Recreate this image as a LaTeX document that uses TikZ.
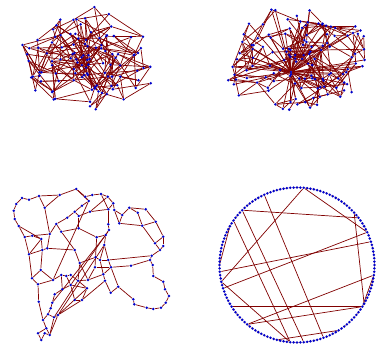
\documentclass[tikz,border=0pt]{standalone}
\definecolor{edgecol}{RGB}{128,0,0}
\definecolor{dotcol}{RGB}{0,0,200}
\pgfdeclarelayer{bg}
\pgfsetlayers{bg,main}
\newcount\ecnt
\tikzset{
 vdot/.style={circle,fill=dotcol,draw=none,inner sep=0pt,minimum size=2.8pt},
 lnk/.style={draw=edgecol,line width=0.7pt},
}
\begin{document}
\begin{tikzpicture}[x=1pt,y=-1pt]
\useasboundingbox (0,0) rectangle (376,349);
% ---------- panel 1: random graph ----------
\pgfmathsetseed{2024}
\foreach \i in {1,...,110}{%
 \pgfmathsetmacro\ang{rnd*360}%
 \pgfmathsetmacro\rad{rnd^0.7}%
 \pgfmathsetmacro\px{90+70*\rad*cos(\ang)}%
 \pgfmathsetmacro\py{58+52*\rad*sin(\ang)}%
 \node[vdot] (a\i) at (\px,\py) {};%
 \expandafter\xdef\csname ax\i\endcsname{\px}%
 \expandafter\xdef\csname ay\i\endcsname{\py}%
}
\begin{pgfonlayer}{bg}
\foreach \ii in {1,...,110}{%
 \global\ecnt=0
 \edef\xa{\csname ax\ii\endcsname}\edef\ya{\csname ay\ii\endcsname}%
 \foreach \t in {1,...,30}{%
  \ifnum\ecnt<2
   \pgfmathtruncatemacro\jj{random(1,110)}%
   \edef\xb{\csname ax\jj\endcsname}\edef\yb{\csname ay\jj\endcsname}%
   \pgfmathsetmacro\dx{abs(\xa-\xb)}%
   \pgfmathsetmacro\dy{abs(\ya-\yb)}%
   \ifdim\dx pt<42pt\ifdim\dy pt<42pt
     \pgfmathsetmacro\dd{\dx*\dx+\dy*\dy}%
     \ifdim\dd pt<1764pt\ifdim\dd pt>30pt
       \draw[lnk] (a\ii)--(a\jj);\global\advance\ecnt by 1
     \fi\fi
   \fi\fi
  \fi
 }%
}
\end{pgfonlayer}
% ---------- panel 2: random graph with hub ----------
\node[vdot] (b0) at (291,72) {};
\node[vdot] (b126) at (321,50) {};
\node[vdot] (b127) at (343,74) {};
\pgfmathsetseed{77}
\foreach \i in {1,...,125}{%
 \pgfmathsetmacro\ang{rnd*360}%
 \pgfmathsetmacro\rad{rnd^0.6}%
 \pgfmathsetmacro\px{298+76*\rad*cos(\ang)}%
 \pgfmathsetmacro\py{62+56*\rad*sin(\ang)}%
 \node[vdot] (b\i) at (\px,\py) {};%
 \expandafter\xdef\csname bx\i\endcsname{\px}%
 \expandafter\xdef\csname by\i\endcsname{\py}%
 \pgfmathsetmacro\hub{rnd}%
 \expandafter\xdef\csname bh\i\endcsname{\hub}%
}
\begin{pgfonlayer}{bg}
\foreach \i in {1,...,125}{%
 \edef\hub{\csname bh\i\endcsname}%
 \ifdim\hub pt<0.36pt
   \draw[lnk] (b0)--(b\i);%
 \else\ifdim\hub pt<0.45pt
   \draw[lnk] (b126)--(b\i);%
 \else\ifdim\hub pt<0.52pt
   \draw[lnk] (b127)--(b\i);%
 \fi\fi\fi
}
\foreach \ii in {1,...,125}{%
 \global\ecnt=0
 \pgfmathtruncatemacro\tgt{random(1,2)}%
 \edef\xa{\csname bx\ii\endcsname}\edef\ya{\csname by\ii\endcsname}%
 \foreach \t in {1,...,30}{%
  \ifnum\ecnt<\tgt
   \pgfmathtruncatemacro\jj{random(1,125)}%
   \edef\xb{\csname bx\jj\endcsname}\edef\yb{\csname by\jj\endcsname}%
   \pgfmathsetmacro\dx{abs(\xa-\xb)}%
   \pgfmathsetmacro\dy{abs(\ya-\yb)}%
   \ifdim\dx pt<32pt\ifdim\dy pt<32pt
     \pgfmathsetmacro\dd{\dx*\dx+\dy*\dy}%
     \ifdim\dd pt<1024pt\ifdim\dd pt>30pt
       \draw[lnk] (b\ii)--(b\jj);\global\advance\ecnt by 1
     \fi\fi
   \fi\fi
  \fi
 }%
}
\end{pgfonlayer}
% ---------- panel 3: mesh ----------
\foreach \n/\x/\y in {T1/76.3/189,T2/59.7/195,T3/39/196,T4/29/199.7,T5/22/198,T6/16.3/204,
 T7/13.7/210.7,T8/14.7/219,T9/18.7/226,T10/24.7/237,T11/32.3/235.7,T12/41.3/239,T13/49.7/234,
 T14/44.7/207.7,T15/42.3/250,T16/47.3/248.3,T17/29/254.3,T18/56.3/224,T19/61.3/231.7,
 T20/67.3/217.7,T21/74.7/211.7,T22/78.7/216,T23/78.7/228.3,T24/82/205.7,T25/88.7/201,
 T26/85.3/196.7,T27/74.7/250,T28/79.7/263,U1/92.3/195,U2/101/194,U3/107.7/196.7,
 U4/113.3/203.3,U5/114.3/210,U6/108.3/209.3,U7/122.3/215,U8/129.3/207.7,U9/137.7/212.7,
 U10/145.7/209.3,U11/155.7/221.7,U12/142.3/225.7,U13/119.3/223.3,U14/108.3/224.3,U15/109/230,
 U16/105.7/235,U17/96.7/237.3,U18/104.3/245,U19/163.3/236.7,U20/163.3/246,U21/155/243.3,
 U22/160/250,U23/151.7/255.7,U24/150/260,U25/95.5/257.3,U26/100/260,U27/90/211.7,X1/108.3/260,
 V1/40.7/270,V2/32/278.3,V3/38/284.3,V4/53/280,V5/61.3/275,V6/66.3/276,V7/70.7/275,V8/70.7/285,
 V9/62.3/289.3,V10/54.7/294.3,V11/78/280.7,V12/88/280,V15/87/288.3,V16/82/300,V17/74.7/300,
 V18/38.7/301.7,V19/52.3/302.7,V20/50.7/308.3,V21/48/314.3,V22/58/315,V23/54/317.3,V24/43/320,
 V25/46.3/328.3,V26/38/333.3,V27/44.7/333.3,V28/49.7/335,V29/41.3/340,W1/95/267.3,W2/111/267.3,
 W3/131/265.7,W4/152.7/265,W5/153.3/276,W6/163.3/281.7,W7/165/289.3,W8/169/296,W9/165.7/302.7,
 W10/161/307.7,W11/153.3/309,W12/146.7/307.7,W13/134.3/304.3,W14/133.3/299.3,W15/118.3/286.7,
 W16/110.7/292.7,W17/105/280.7,W18/103.3/274.3}
 {\node[vdot] (\n) at (\x,\y) {};}
\begin{pgfonlayer}{bg}
\foreach \u/\v in {T1/T2,T2/T3,T3/T4,T4/T5,T5/T6,T6/T7,T7/T8,T8/T9,T9/T10,T10/T11,T11/T13,
 T11/T12,T12/T15,T15/T16,T16/T13,T13/T14,T14/T3,T14/T2,T10/T17,T17/T15,T13/T18,T18/T19,
 T18/T20,T20/T21,T21/T24,T24/T25,T25/T26,T1/T26,T1/T25,T26/U1,T21/T22,T22/T23,T23/T19,
 T23/U17,T22/U27,U27/U6,T16/T27,T27/T28,T27/T19,T28/U25,T28/V11,T15/V1,T17/V2,V1/V2,V2/V3,
 V1/V4,V3/V18,V3/V4,V4/V5,V5/V6,V6/V7,V7/V11,V11/V12,V12/W1,V12/W18,V5/V9,V9/V10,V10/V19,
 V6/V8,V8/V9,V8/V15,V15/V11,V15/V16,V16/V17,V17/V8,V18/V24,V24/V21,V21/V20,V20/V19,V21/V23,
 V23/V22,V22/V16,V24/V25,V25/V26,V26/V29,V29/V27,V27/V28,V28/V25,V28/V22,V28/V23,
 T25/V4,U15/V8,U16/V19,U18/V22,V23/V11,V22/V15,T12/T17,U3/U27,U4/U6,U5/U7,T9/T12,
 U1/U2,U2/U3,U3/U4,U4/U5,U6/U14,U5/U13,U13/U7,U7/U8,U8/U9,U8/U10,U9/U12,U10/U11,U11/U12,
 U12/U13,U11/U19,U12/U21,U19/U21,U19/U20,U20/U22,U21/U22,U22/U23,U23/U24,U24/W4,U24/W3,
 W3/W2,W2/W1,W1/U25,U25/U17,U17/U16,U16/U15,U15/U14,U16/U18,U18/U26,U26/U25,U26/W18,
 X1/U18,X1/U23,W2/W18,W18/W17,W17/W16,W16/W15,W15/W2,W15/W14,W14/W13,W13/W12,W12/W11,
 W11/W10,W10/W9,W9/W8,W8/W7,W7/W6,W6/W5,W5/W4,U2/U6,W17/V16,X1/W2,U26/X1,T28/V12}
 {\draw[lnk] (\u)--(\v);}
\end{pgfonlayer}
% ---------- panel 4: circle ----------
\foreach \i in {0,...,143}{%
 \pgfmathsetmacro\cx{297+77.5*cos(2.5*\i)}%
 \pgfmathsetmacro\cy{265-77.5*sin(2.5*\i)}%
 \node[vdot] (c\i) at (\cx,\cy) {};%
}
\begin{pgfonlayer}{bg}
\foreach \i in {0,...,143}{%
 \pgfmathtruncatemacro\j{mod(\i+1,144)}%
 \draw[lnk] (c\i)--(c\j);%
}
\foreach \u/\v in {34/10,34/77,54/15,17/132,46/116,58/106,54/110,74/7,79/10,85/131,
 92/141,92/131,102/121,60/72,131/141,77/106}
 {\draw[lnk] (c\u)--(c\v);}
\end{pgfonlayer}
\end{tikzpicture}
\end{document}
